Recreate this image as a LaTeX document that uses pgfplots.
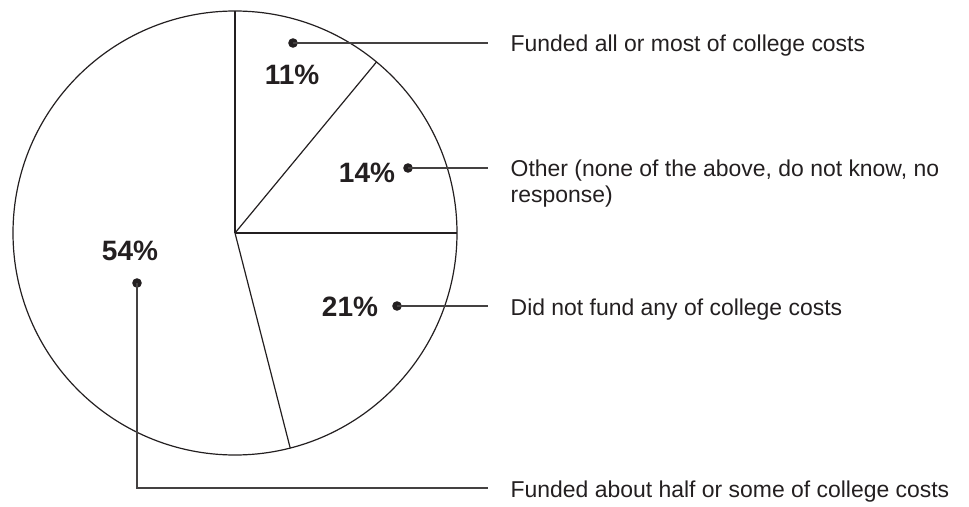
\documentclass[border=0pt]{standalone}
\usepackage{fontspec}
\setmainfont{Liberation Sans}
\usepackage{pgfplots}
\pgfplotsset{compat=1.18}
\definecolor{ink}{HTML}{231F20}
\tikzset{
  pieline/.style={line width=0.9pt, draw=ink},
  lead/.style={line width=1pt, draw=ink!85},
  pct/.style={font=\bfseries\fontsize{21}{25}\selectfont, text=ink},
  lab/.style={anchor=base west, font=\fontsize{17.2}{20}\selectfont, text=ink},
}
\begin{document}
\begin{tikzpicture}
\begin{axis}[
  width=726.75pt, height=374.25pt, scale only axis,
  xmin=0, xmax=969, ymin=0, ymax=499, y dir=reverse,
  hide axis, clip=false,
]
\path[draw=none] (axis cs:0,0) rectangle (axis cs:969,499);

% pie: centre (235,233), radius 222 (axis units = pixels)
\draw[pieline] (axis cs:235,233) circle [radius=166.5pt];
\def\cum{0}
\pgfplotsforeachungrouped \p in {11,14,21,54}{%
  \pgfmathsetmacro\ang{90-3.6*\cum}%
  \pgfmathsetmacro\ex{235+222*cos(\ang)}%
  \pgfmathsetmacro\ey{233-222*sin(\ang)}%
  \edef\tmp{\noexpand\draw[pieline] (axis cs:235,233) -- (axis cs:\ex,\ey);}%
  \tmp
  \pgfmathsetmacro\cum{\cum+\p}%
  \xdef\cum{\cum}%
}

% percentages
\node[pct] at (axis cs:292,75) {11\%};
\node[pct] at (axis cs:367,173) {14\%};
\node[pct] at (axis cs:350,307) {21\%};
\node[pct] at (axis cs:130,251) {54\%};

% leaders
\fill[ink] (axis cs:293,43) circle [radius=3.6pt];
\draw[lead] (axis cs:293,43) -- (axis cs:488,43);
\fill[ink] (axis cs:408,168) circle [radius=3.6pt];
\draw[lead] (axis cs:408,168) -- (axis cs:488,168);
\fill[ink] (axis cs:397,306) circle [radius=3.6pt];
\draw[lead] (axis cs:397,306) -- (axis cs:488,306);
\fill[ink] (axis cs:137,283) circle [radius=3.6pt];
\draw[lead] (axis cs:137,283) -- (axis cs:137,488) -- (axis cs:488,488);

% category labels
\node[lab] at (axis cs:506,52) {Funded all or most of college costs};
\node[lab] at (axis cs:506,177) {Other (none of the above, do not know, no};
\node[lab] at (axis cs:506,203) {response)};
\node[lab] at (axis cs:506,315) {Did not fund any of college costs};
\node[lab] at (axis cs:506,497) {Funded about half or some of college costs};
\end{axis}
\end{tikzpicture}
\end{document}
